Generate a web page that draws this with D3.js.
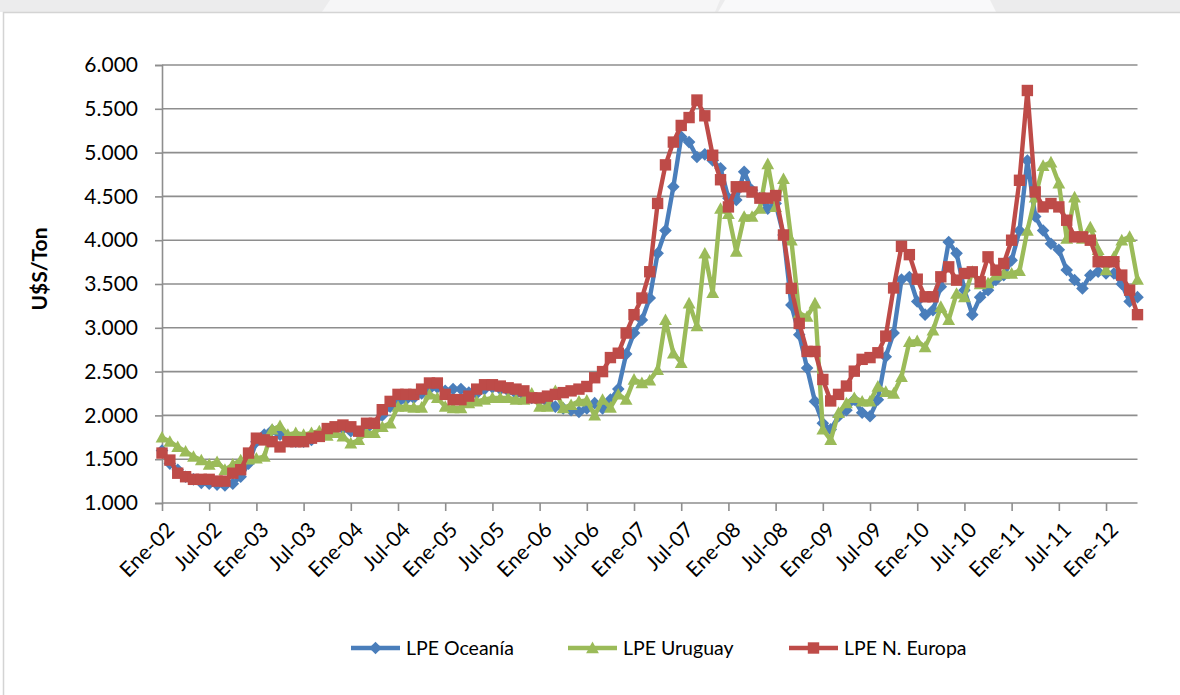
<!DOCTYPE html>
<html><head><meta charset="utf-8">
<script src="https://cdn.jsdelivr.net/npm/d3@7"></script>
<style>body{margin:0;background:#fff}svg{display:block}</style>
</head><body><svg id="c" width="1180" height="695"></svg>
<script>
const monthNames = ["Ene","Feb","Mar","Abr","May","Jun","Jul","Ago","Sep","Oct","Nov","Dic"];
const years = ["02","03","04","05","06","07","08","09","10","11","12"];
const tickLabels = ["Ene-02","Jul-02","Ene-03","Jul-03","Ene-04","Jul-04","Ene-05","Jul-05","Ene-06","Jul-06","Ene-07","Jul-07","Ene-08","Jul-08","Ene-09","Jul-09","Ene-10","Jul-10","Ene-11","Jul-11","Ene-12"];
const yTicks = [1000,1500,2000,2500,3000,3500,4000,4500,5000,5500,6000];

const oceania = [1600,1450,1380,1300,1270,1230,1220,1210,1200,1220,1300,1450,
1700,1780,1830,1780,1740,1700,1700,1720,1780,1830,1850,1850,
1820,1800,1850,1900,2000,2100,2150,2180,2200,2250,2300,2320,
2280,2300,2300,2260,2250,2300,2320,2300,2280,2250,2230,2200,
2180,2150,2100,2080,2060,2040,2080,2140,2080,2180,2300,2700,
2940,3090,3340,3850,4110,4610,5180,5120,4950,4980,4910,4820,
4480,4460,4780,4570,4480,4360,4420,4060,3260,2920,2540,2160,
1910,1840,1990,2060,2180,2030,1990,2180,2670,2940,3550,3580,
3300,3150,3200,3470,3980,3850,3430,3150,3350,3430,3545,3600,
3770,4110,4910,4270,4110,3960,3890,3660,3545,3450,3600,3640,
3620,3620,3500,3300,3350];

const uruguay = [1750,1700,1640,1590,1530,1490,1440,1470,1380,1440,1490,1500,
1510,1530,1840,1880,1780,1800,1780,1800,1820,1770,1800,1760,
1680,1720,1800,1800,1870,1910,2100,2100,2090,2090,2240,2200,
2100,2085,2085,2140,2160,2180,2200,2200,2200,2180,2180,2250,
2100,2100,2280,2085,2120,2160,2170,2000,2180,2090,2240,2180,
2410,2370,2400,2520,3090,2710,2600,3280,3020,3850,3400,4360,
4300,3870,4270,4270,4360,4870,4380,4700,4000,3165,3127,3280,
1840,1720,2030,2140,2200,2160,2160,2330,2270,2250,2440,2840,
2850,2780,2970,3240,3090,3390,3350,3640,3500,3510,3600,3620,
3620,3650,4110,4490,4850,4890,4650,4020,4490,4020,4150,3890,
3660,3810,4000,4040,3550];

const nEuropa = [1570,1490,1340,1300,1270,1270,1270,1250,1250,1340,1380,1570,
1740,1720,1700,1640,1700,1700,1700,1740,1760,1850,1870,1890,
1870,1820,1910,1910,2065,2160,2240,2240,2240,2300,2370,2370,
2240,2180,2180,2220,2300,2350,2350,2335,2315,2300,2280,2200,
2200,2220,2240,2260,2280,2300,2330,2430,2500,2660,2710,2940,
3150,3340,3640,4420,4860,5120,5310,5400,5600,5420,4970,4690,
4380,4610,4610,4550,4480,4480,4510,4060,3450,3050,2730,2730,
2410,2165,2240,2335,2505,2640,2660,2715,2905,3455,3930,3835,
3555,3354,3354,3582,3696,3544,3620,3639,3525,3810,3658,3734,
4000,4684,5709,4551,4380,4418,4380,4228,4038,4038,4000,3754,
3754,3754,3602,3430,3150];

const seriesNames = ["LPE Oceanía","LPE Uruguay","LPE N. Europa"];
const seriesColors = ["#4A7EBB","#9BBB59","#BE4B48"];

const categories = [];
years.forEach(yr => monthNames.forEach(m => categories.push(m + "-" + yr)));
const cats = categories.slice(0, oceania.length);

const svg = d3.select("#c");
const FONT = "Lato, 'Open Sans', sans-serif";

// top strip background
svg.append("rect").attr("x",0).attr("y",0).attr("width",1180).attr("height",12).attr("fill","#ececed");
svg.append("path").attr("d","M330,0 L720,0 L715,12 L322,12 Z").attr("fill","#f6f6f7");
svg.append("path").attr("d","M725,0 L990,0 L996,12 L718,12 Z").attr("fill","#f9f9fa");
svg.append("rect").attr("x",3.5).attr("y",12.5).attr("width",1190).attr("height",700)
  .attr("fill","#fff").attr("stroke","#d4d4d4").attr("stroke-width",1.5);

const plotLeft = 162, plotRight = 1137.5, plotTop = 65, plotBottom = 503;
const x = d3.scalePoint().domain(cats).range([plotLeft, plotRight]);
const y = d3.scaleLinear().domain([1000, 6000]).range([plotBottom, plotTop]);
const loc = d3.formatLocale({decimal:",", thousands:".", grouping:[3], currency:["$",""]});
const fmt = loc.format(",d");

// gridlines
svg.append("g").selectAll("line").data(yTicks.slice(1)).join("line")
  .attr("x1", plotLeft).attr("x2", plotRight).attr("y1", d => y(d)).attr("y2", d => y(d))
  .attr("stroke","#8e8e8e").attr("stroke-width",1.6);

// y axis
const ya = svg.append("g").attr("transform", `translate(${plotLeft},0)`)
  .call(d3.axisLeft(y).tickValues(yTicks).tickFormat(fmt).tickSize(7).tickPadding(17));
ya.select(".domain").attr("stroke","#8e8e8e").attr("stroke-width",1.6);
ya.selectAll(".tick line").attr("stroke","#8e8e8e").attr("stroke-width",1.6);
ya.selectAll("text").attr("font-family",FONT).attr("font-size","21px").attr("fill","#000");

// x axis
const xa = svg.append("g").attr("transform", `translate(0,${plotBottom})`)
  .call(d3.axisBottom(x).tickValues(tickLabels).tickSize(8));
xa.select(".domain").attr("stroke","#8e8e8e").attr("stroke-width",1.6).attr("d", `M${plotLeft},0H${plotRight}`);
xa.selectAll(".tick line").attr("stroke","#8e8e8e").attr("stroke-width",1.6);
xa.selectAll("text").attr("font-family",FONT).attr("font-size","21px").attr("fill","#000")
  .attr("text-anchor","end").attr("dy","0.35em").attr("y",0)
  .attr("transform","translate(8,23) rotate(-45)");

// y title
svg.append("text").attr("transform","translate(47,269) rotate(-90)")
  .attr("text-anchor","middle").attr("font-family",FONT).attr("font-weight","bold")
  .attr("font-size","21px").text("U$S/Ton");

// markers
const diamond = s => `M0,${-s}L${s},0L0,${s}L${-s},0Z`;
const square = s => `M${-s},${-s}H${s}V${s}H${-s}Z`;
const triangle = s => `M0,${-s*1.05}L${s*1.05},${s*0.85}L${-s*1.05},${s*0.85}Z`;
const markerFns = [() => diamond(6.3), () => triangle(6.1), () => square(5.7)];

const allSeries = [oceania, uruguay, nEuropa];
const line = d3.line().x((d,i) => x(cats[i])).y(d => y(d));

allSeries.forEach((s, k) => {
  const g = svg.append("g");
  g.append("path").attr("d", line(s)).attr("fill","none")
    .attr("stroke", seriesColors[k]).attr("stroke-width",4.4).attr("stroke-linejoin","round");
  g.selectAll("path.m").data(s).join("path").attr("class","m")
    .attr("transform",(d,i) => `translate(${x(cats[i])},${y(d)})`)
    .attr("d", markerFns[k]()).attr("fill", seriesColors[k]);
});

// legend
const legendX = [351, 568, 789];
const lg = svg.append("g");
seriesNames.forEach((n, k) => {
  const cx = legendX[k], cy = 648;
  lg.append("line").attr("x1",cx).attr("x2",cx+49).attr("y1",cy).attr("y2",cy)
    .attr("stroke",seriesColors[k]).attr("stroke-width",4.4);
  lg.append("path").attr("transform",`translate(${cx+24.5},${cy})`).attr("d",markerFns[k]()).attr("fill",seriesColors[k]);
  lg.append("text").attr("x",cx+55).attr("y",cy).attr("dy","0.35em")
    .attr("font-family",FONT).attr("font-size","19.5px").attr("fill","#000").text(n);
});
</script></body></html>
